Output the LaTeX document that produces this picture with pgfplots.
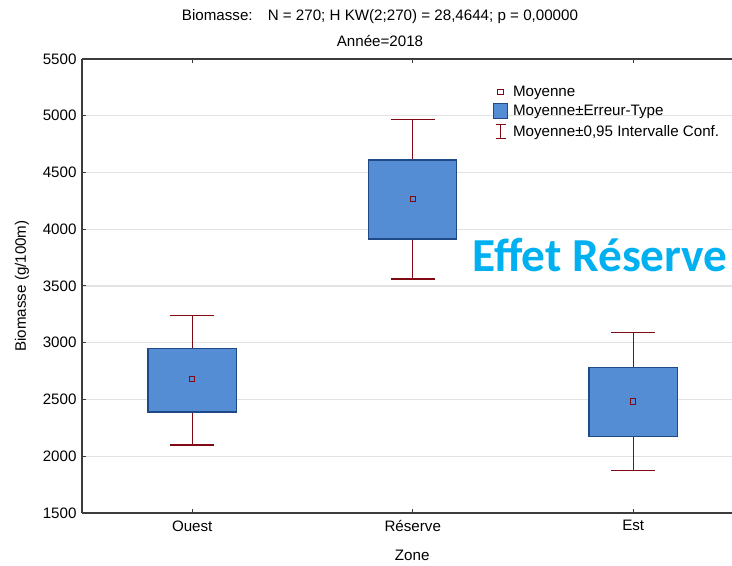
\documentclass[border=0pt]{standalone}
\usepackage{fontspec}
\setmainfont{Liberation Sans}
\newfontfamily\calib{Carlito}
\usepackage{pgfplots}
\pgfplotsset{compat=1.18}
\definecolor{boxfill}{RGB}{84,141,212}
\definecolor{boxedge}{RGB}{31,73,135}
\definecolor{darkred}{RGB}{128,10,20}
\definecolor{gridgray}{RGB}{226,226,226}
\definecolor{axisgray}{RGB}{60,60,60}
\definecolor{effet}{RGB}{0,176,240}
\begin{document}
\begin{tikzpicture}
\useasboundingbox (0,0) rectangle (732bp,566bp);
\begin{axis}[
  at={(82bp,53bp)}, anchor=south west,
  scale only axis, width=650bp, height=454bp,
  xmin=-0.5, xmax=2.448, ymin=1500, ymax=5500,
  axis y line*=left,
  xtick={0,1,2}, xticklabels={Ouest,Réserve,Est},
  ytick={1500,2000,...,5500},
  xtick pos=both,
  tick align=inside,
  major tick length=4bp,
  tick style={axisgray, line width=1pt},
  axis line style={axisgray, line width=1.3pt},
  ymajorgrids, grid style={gridgray, line width=1.3pt},
  /pgf/number format/1000 sep={},
  /pgf/number format/assume math mode=true,
  tick label style={font=\fontsize{15.2}{17}\selectfont},
  yticklabel style={xshift=-2bp},
  xticklabel style={yshift=-4bp},
  xlabel={Zone}, ylabel={Biomasse (g/100m)},
  label style={font=\fontsize{15.2}{17}\selectfont},
  xlabel style={at={(axis description cs:0.508,-0.0925)}, anchor=center},
  ylabel style={at={(axis description cs:-0.0923,0.5)}, anchor=center},
  legend cell align=left,
  legend style={at={(axis description cs:0.632,0.943)}, anchor=north west,
    draw=none, fill=none, inner sep=0pt, row sep=4.5bp,
    font=\fontsize{15.2}{17}\selectfont,
    nodes={inner sep=1bp},
    /tikz/every odd column/.style={column sep=4bp}},
]
% whiskers (mean +/- 0.95 CI)
\addplot[forget plot, draw=none, mark=none,
  error bars/.cd, y dir=both, y explicit,
  error bar style={draw=darkred, line width=1.1pt},
  error mark=|, error mark options={darkred, mark size=22bp, line width=1.1pt}]
  coordinates {
  (0,2681) += (0,557) -= (0,582)
  (1,4267) += (0,696) -= (0,705)
  (2,2484) += (0,605) -= (0,611)
  };
% boxes (mean +/- SE)
\addplot[forget plot, fill=boxfill, draw=boxedge, line width=1.3pt] coordinates {(-0.2,2390) (0.2,2390) (0.2,2951) (-0.2,2951)} -- cycle;
\addplot[forget plot, fill=boxfill, draw=boxedge, line width=1.3pt] coordinates {(0.8,3914) (1.2,3914) (1.2,4610) (0.8,4610)} -- cycle;
\addplot[forget plot, fill=boxfill, draw=boxedge, line width=1.3pt] coordinates {(1.8,2176) (2.2,2176) (2.2,2780) (1.8,2780)} -- cycle;
% means
\addplot[forget plot, only marks, mark=square*, mark size=2.7bp, mark options={draw=darkred, fill=boxfill, line width=0.9pt}] coordinates {(0,2681) (1,4267) (2,2484)};
\addlegendimage{legend image code/.code={\draw[darkred, fill=white, line width=0.9pt] (4bp,-2.8bp) rectangle (9.6bp,2.8bp);}}
\addlegendentry{Moyenne}
\addlegendimage{legend image code/.code={\draw[fill=boxfill, draw=boxedge, line width=1pt] (0bp,-7.5bp) rectangle (14bp,7.5bp);}}
\addlegendentry{Moyenne±Erreur-Type}
\addlegendimage{legend image code/.code={\draw[darkred, line width=1pt] (7bp,-7bp) -- (7bp,7bp) (2bp,-7bp) -- (12bp,-7bp) (2bp,7bp) -- (12bp,7bp);}}
\addlegendentry{Moyenne±0,95 Intervalle Conf.}
\node[anchor=base west, text=effet, font=\calib\bfseries\fontsize{47.5}{52}\selectfont, inner sep=0pt] at (axis description cs:0.6,0.531) {Effet Réserve};
\end{axis}
\node[font=\fontsize{15.2}{17}\selectfont] at (380bp,549bp) {Biomasse:\quad N = 270; H KW(2;270) = 28,4644; p = 0,00000};
\node[font=\fontsize{15.2}{17}\selectfont] at (380bp,525bp) {Année=2018};
\end{tikzpicture}
\end{document}
